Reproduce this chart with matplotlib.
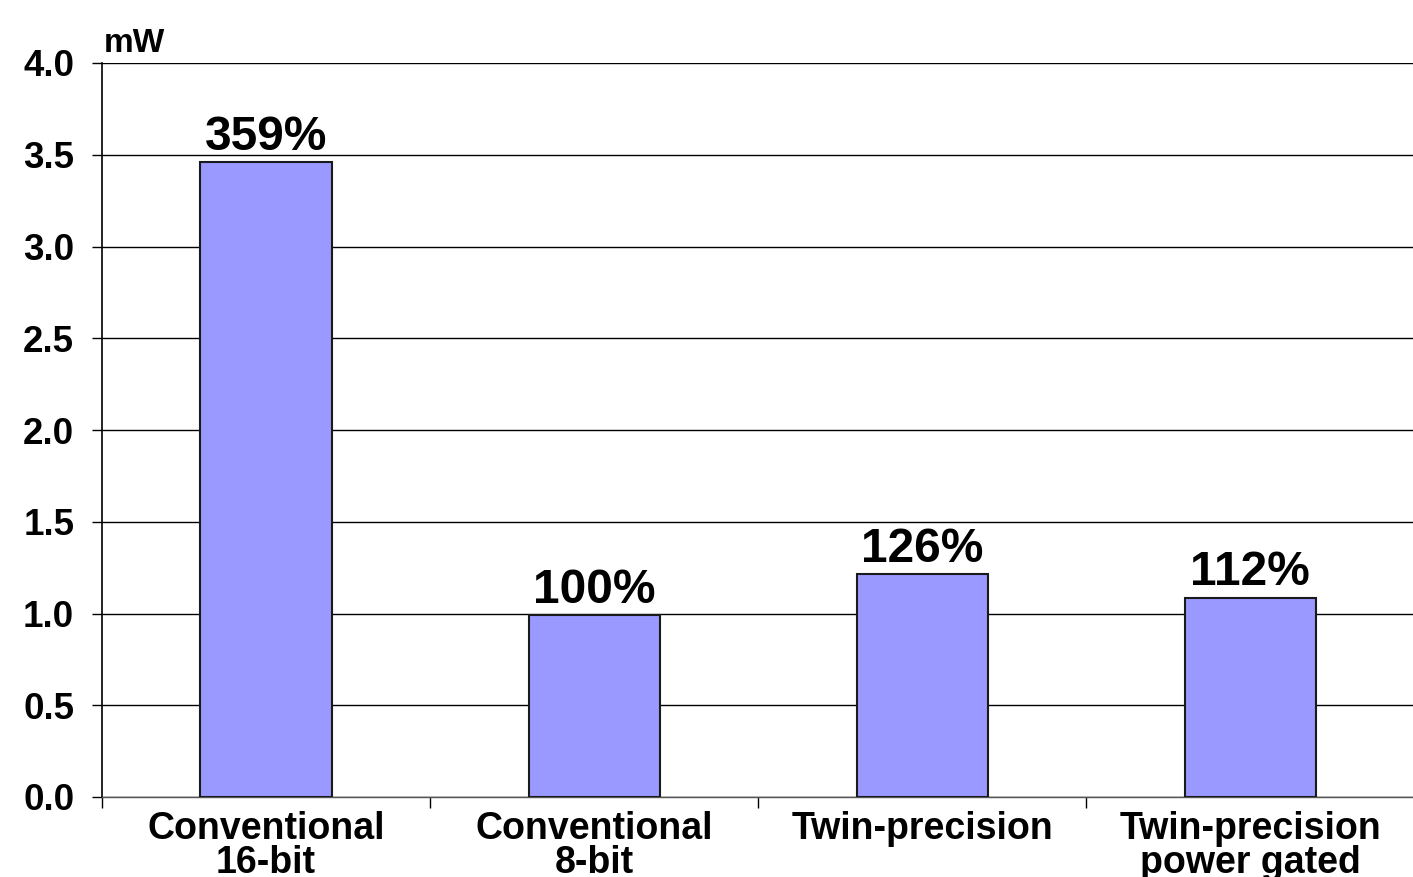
import matplotlib.pyplot as plt
import numpy as np

# data
categories = ['Conventional\n16-bit', 'Conventional\n8-bit', 'Twin-precision', 'Twin-precision\npower gated']
power_mw = [3.46, 0.99, 1.215, 1.085]
percent = ['359%', '100%', '126%', '112%']
yticks = [0.0, 0.5, 1.0, 1.5, 2.0, 2.5, 3.0, 3.5, 4.0]

plt.rcParams['font.family'] = ['Liberation Sans', 'DejaVu Sans']
plt.rcParams['font.weight'] = 'bold'

fig = plt.figure(figsize=(14.13, 8.77), dpi=100)
ax = fig.add_axes([102 / 1413, 80 / 877, 1 - 102 / 1413 + 0.001, 734 / 877])

x = np.arange(len(categories))
ax.bar(x, power_mw, width=0.4, color='#9999FF', edgecolor='#1a1a1a', linewidth=1.5, zorder=3)

for xi, v, p in zip(x, power_mw, percent):
    ax.annotate(p, (xi, v), xytext=(0, 9), textcoords='offset points',
                ha='center', va='baseline', fontsize=34.5, fontweight='bold')

ax.set_xlim(-0.5, len(categories) - 0.5)
ax.set_ylim(0, 4.0)
ax.set_yticks(yticks)
ax.set_yticklabels(['%.1f' % t for t in yticks])
ax.yaxis.grid(True, color='black', linewidth=1.0, zorder=0)

ax.set_xticks(x)
ax.set_xticklabels(categories, linespacing=0.95)
ax.set_xticks(np.arange(-0.5, len(categories)), minor=True)
ax.tick_params(axis='x', which='major', length=0, labelsize=27, pad=10)
ax.tick_params(axis='x', which='minor', length=8, width=1, direction='out')
ax.tick_params(axis='y', length=7, width=1, direction='out', labelsize=26.5, pad=13)

for s in ['top', 'right']:
    ax.spines[s].set_visible(False)
ax.spines['left'].set_linewidth(1.2)
ax.spines['bottom'].set_linewidth(1.0)
ax.spines['bottom'].set_color('#555555')

fig.text(104 / 1413, 1 - 52 / 877, 'mW', fontsize=24, fontweight='bold', va='baseline')

fig.savefig('out.png', dpi=100)
